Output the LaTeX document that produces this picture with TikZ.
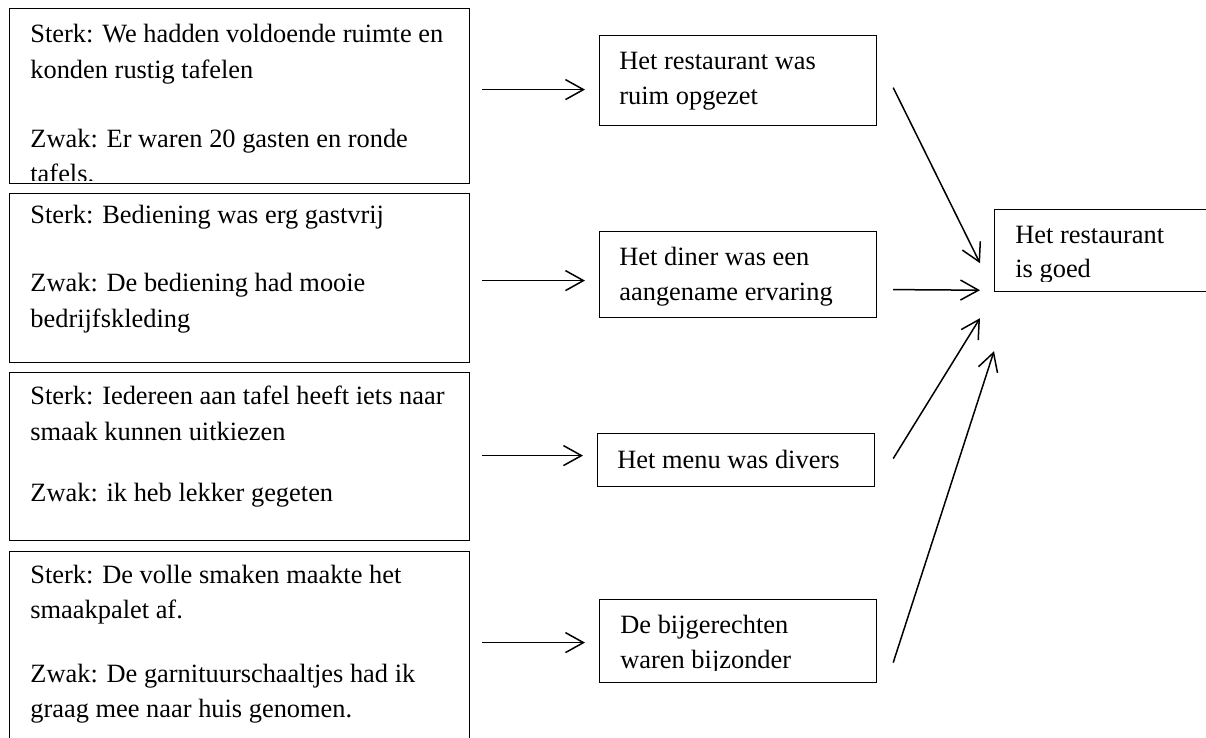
\documentclass[tikz,border=0pt]{standalone}
\usepackage{fontspec}
\setmainfont{Liberation Serif}
\usetikzlibrary{arrows.meta}

\tikzset{
  frame/.style={draw, line width=0.6pt, inner sep=0pt, anchor=north west},
  txt/.style={anchor=base west, inner sep=0pt, font=\fontsize{13.2}{16}\selectfont},
  arr/.style={line width=0.75pt, -{Straight Barb[length=9pt,width=10pt]}},
}

\begin{document}
\begin{tikzpicture}[x=0.5pt,y=-0.5pt]
  \useasboundingbox (0,0) rectangle (1206,738);
  % Left column: sterk / zwak
  \node[frame,minimum width=230pt,minimum height=87.5pt] (s1) at (9,8) {};
  \node[frame,minimum width=230pt,minimum height=84.5pt] (s2) at (9,193) {};
  \node[frame,minimum width=230pt,minimum height=84pt] (s3) at (9,372) {};
  \node[frame,minimum width=230pt,minimum height=100pt] (s4) at (9,551) {};
  \begin{scope}
    \clip (9,8) rectangle (469,181);
    \foreach \y/\t [count=\i] in {43/{Sterk: We hadden voldoende ruimte en},
        79/{konden rustig tafelen}, 148/{Zwak: Er waren 20 gasten en ronde}, 183/{tafels.}}
      \node[txt] (s1-\i) at (30,\y) {\t};
  \end{scope}
  \foreach \y/\t [count=\i] in {223/{Sterk: Bediening was erg gastvrij},
      292/{Zwak: De bediening had mooie}, 327/{bedrijfskleding}}
    \node[txt] (s2-\i) at (30,\y) {\t};
  \foreach \y/\t [count=\i] in {404/{Sterk: Iedereen aan tafel heeft iets naar},
      440/{smaak kunnen uitkiezen}, 501/{Zwak: ik heb lekker gegeten}}
    \node[txt] (s3-\i) at (30,\y) {\t};
  \foreach \y/\t [count=\i] in {583/{Sterk: De volle smaken maakte het},
      618/{smaakpalet af.}, 682/{Zwak: De garnituurschaaltjes had ik},
      717/{graag mee naar huis genomen.}}
    \node[txt] (s4-\i) at (30,\y) {\t};

  % Middle column: conclusions
  \node[frame,minimum width=138.5pt,minimum height=45pt] (a) at (599,35) {};
  \node[frame,minimum width=138.5pt,minimum height=43pt] (b) at (599,231) {};
  \node[frame,minimum width=138.5pt,minimum height=26.5pt] (c) at (597,433) {};
  \node[frame,minimum width=138.5pt,minimum height=41.5pt] (d) at (599,599) {};
  \node[txt] (a-1) at (619,70) {Het restaurant was};
  \node[txt] (a-2) at (619,105) {ruim opgezet};
  \node[txt] (b-1) at (619,265) {Het diner was een};
  \node[txt] (b-2) at (619,300) {aangename ervaring};
  \node[txt] (c-1) at (617,468) {Het menu was divers};
  \begin{scope}
    \clip (599,599) rectangle (876,670);
    \node[txt] (d-1) at (620,633) {De bijgerechten};
    \node[txt] (d-2) at (620,668) {waren bijzonder};
  \end{scope}

  % Right: main claim
  \node[frame,minimum width=125pt,minimum height=41pt] (g) at (994,209) {};
  \begin{scope}
    \clip (994,209) rectangle (1240,281);
    \node[txt] (g-1) at (1015,243) {Het restaurant};
    \node[txt] (g-2) at (1015,278) {is goed};
  \end{scope}

  % Arrows
  \foreach \s/\t/\ya/\yb in {s1/a/-6.5/9, s2/b/2.5/6, s3/c/-1/-4.5, s4/d/-9/1.5}
    \draw[arr] ([shift={(12,\ya)}]\s.east) -- ([shift={(-14,\yb)}]\t.west);
  \draw[arr] ([shift={(16,7)}]a.east) -- ([shift={(-14,-29)}]g.south west);
  \draw[arr] ([shift={(16,15)}]b.east) -- ([shift={(-14,-2)}]g.south west);
  \draw[arr] ([shift={(18,-1.5)}]c.east) -- ([shift={(-14,26)}]g.south west);
  \draw[arr] ([shift={(16,21.5)}]d.east) -- ([shift={(0,59)}]g.south west);
\end{tikzpicture}
\end{document}
